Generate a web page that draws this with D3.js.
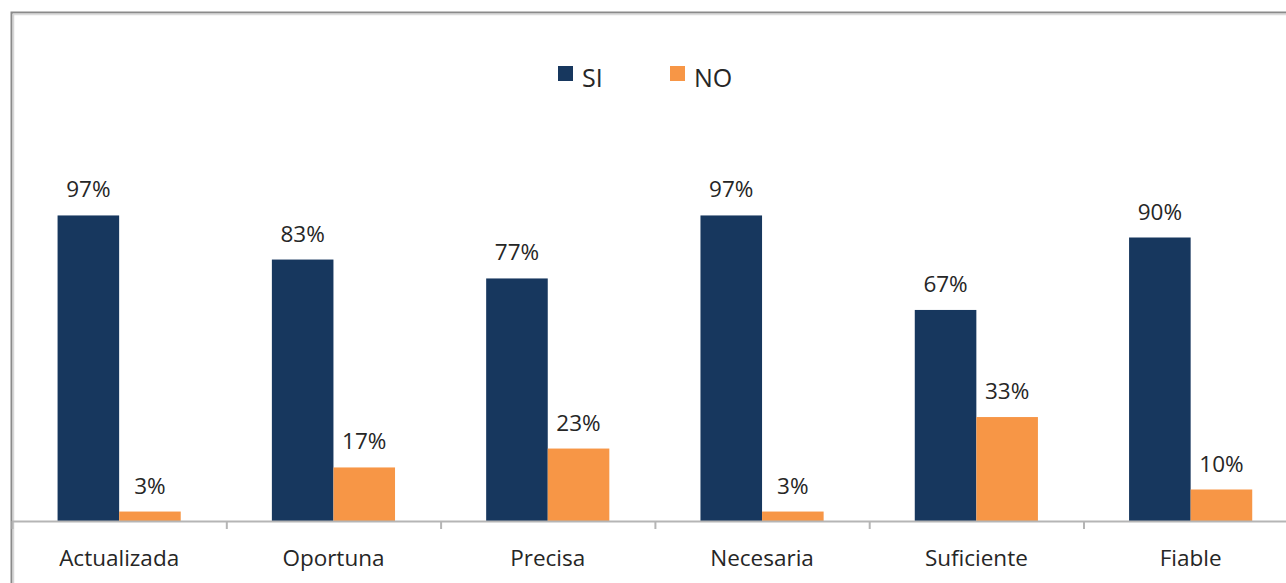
<!DOCTYPE html>
<html>
<head>
<meta charset="utf-8">
<script src="https://cdn.jsdelivr.net/npm/d3@7"></script>
<style>
  html, body { margin: 0; padding: 0; background: #fff; }
  svg { display: block; }
  text { font-family: "Open Sans", sans-serif; fill: #262626; }
</style>
</head>
<body>
<svg id="chart" width="1286" height="583"></svg>
<script>
// Survey answers per information attribute (percent)
const categories = ["Actualizada", "Oportuna", "Precisa", "Necesaria", "Suficiente", "Fiable"];
const seriesNames = ["SI", "NO"];
const siValues = [97, 83, 77, 97, 67, 90];
const noValues = [3, 17, 23, 3, 33, 10];
const colors = ["#17375E", "#F79646"];

const svg = d3.select("#chart");
const W = 1286, H = 583;

// Chart frame (extends past the right and bottom edges)
svg.append("rect")
  .attr("x", 11.5).attr("y", 12.5)
  .attr("width", W + 20).attr("height", H + 20)
  .attr("fill", "none")
  .attr("stroke", "#8a8a8a")
  .attr("stroke-width", 2);
svg.append("line")
  .attr("x1", 13).attr("x2", W).attr("y1", 14.5).attr("y2", 14.5)
  .attr("stroke", "#dcdcdc").attr("stroke-width", 1.5);
svg.append("line")
  .attr("x1", 13.5).attr("x2", 13.5).attr("y1", 14).attr("y2", H)
  .attr("stroke", "#d6d6d6").attr("stroke-width", 1.5);

const plotLeft = 12, catWidth = 214.3;
const x0 = d3.scaleBand()
  .domain(categories)
  .range([plotLeft, plotLeft + catWidth * categories.length])
  .paddingInner(0).paddingOuter(0);
const x1 = d3.scaleBand()
  .domain(seriesNames)
  .range([0, x0.bandwidth()])
  .paddingInner(0)
  .paddingOuter(0.74);
const y = d3.scaleLinear().domain([0, 100]).range([521, 206]);

const rows = categories.map((c, i) => ({ cat: c, vals: [siValues[i], noValues[i]] }));

const groups = svg.selectAll("g.cat").data(rows).join("g")
  .attr("class", "cat")
  .attr("transform", d => `translate(${x0(d.cat)},0)`);

groups.selectAll("rect").data(d => d.vals.map((v, j) => ({ s: seriesNames[j], v, j })))
  .join("rect")
  .attr("x", d => x1(d.s))
  .attr("width", x1.bandwidth())
  .attr("y", d => y(d.v))
  .attr("height", d => y(0) - y(d.v))
  .attr("fill", d => colors[d.j]);

groups.selectAll("text.val").data(d => d.vals.map((v, j) => ({ s: seriesNames[j], v, j })))
  .join("text")
  .attr("class", "val")
  .attr("x", d => x1(d.s) + x1.bandwidth() / 2)
  .attr("y", d => y(d.v) - 18)
  .attr("text-anchor", "middle")
  .attr("font-size", 22.5)
  .text(d => d.v + "%");

// Category axis along the baseline
const axisG = svg.append("g").attr("transform", `translate(0,${y(0)})`);
axisG.append("line")
  .attr("x1", plotLeft).attr("x2", W)
  .attr("y1", 0.5).attr("y2", 0.5)
  .attr("stroke", "#b5b5b5").attr("stroke-width", 2);
const boundaries = d3.range(categories.length + 1).map(i => plotLeft + i * x0.step());
axisG.selectAll("line.tick").data(boundaries).join("line")
  .attr("class", "tick")
  .attr("x1", d => d + 0.5).attr("x2", d => d + 0.5)
  .attr("y1", 0).attr("y2", 8)
  .attr("stroke", "#b5b5b5").attr("stroke-width", 2);
axisG.selectAll("text.cat").data(categories).join("text")
  .attr("class", "cat")
  .attr("x", d => x0(d) + x0.bandwidth() / 2)
  .attr("y", 45)
  .attr("text-anchor", "middle")
  .attr("font-size", 22.5)
  .text(d => d);

// Legend
const legend = svg.append("g");
const legendX = [558, 670];
seriesNames.forEach((s, i) => {
  legend.append("rect")
    .attr("x", legendX[i]).attr("y", 66)
    .attr("width", 15).attr("height", 15)
    .attr("fill", colors[i]);
  legend.append("text")
    .attr("x", legendX[i] + 24).attr("y", 87)
    .attr("font-size", 25)
    .text(s);
});
</script>
</body>
</html>
